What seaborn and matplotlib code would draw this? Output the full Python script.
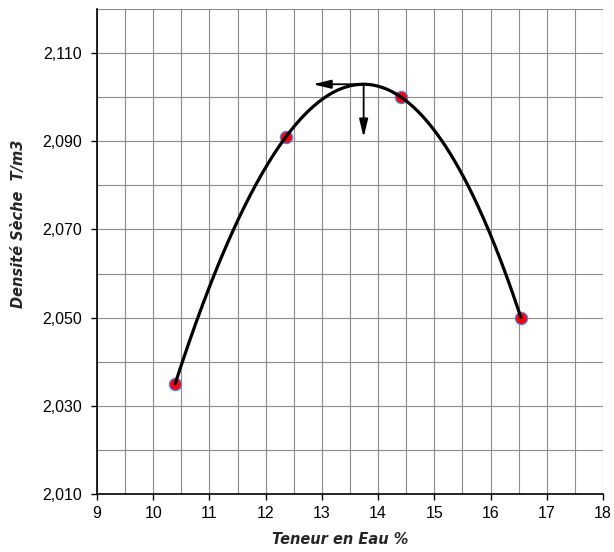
import numpy as np
import pandas as pd
import matplotlib
matplotlib.use("Agg")
import matplotlib.pyplot as plt
from matplotlib.ticker import MultipleLocator, FuncFormatter
import seaborn as sns

# Proctor test measurements
teneur_eau = [10.39, 12.36, 14.41, 16.54]
densite_seche = [2.035, 2.091, 2.100, 2.050]

x_ticks = list(range(9, 19))
y_ticks = [2.010, 2.030, 2.050, 2.070, 2.090, 2.110]

sns.set_theme(style="white")
plt.rcParams["font.family"] = ["Liberation Sans", "DejaVu Sans"]

fig = plt.figure(figsize=(6.14, 5.52), dpi=100)
ax = fig.add_axes([97 / 614, 58 / 552, 506 / 614, 485 / 552])

# Cubic trend curve through the measured points
coef = np.polyfit(teneur_eau, densite_seche, 3)
xs = np.linspace(min(teneur_eau), max(teneur_eau), 300)
curve = pd.DataFrame({"x": xs, "y": np.polyval(coef, xs)})
pts = pd.DataFrame({"x": teneur_eau, "y": densite_seche})

sns.scatterplot(data=pts, x="x", y="y", ax=ax, s=75, color="#ff0000",
                edgecolor="#5b7bd5", linewidth=1.0, zorder=3)
sns.lineplot(data=curve, x="x", y="y", ax=ax, color="black", lw=2.3,
             zorder=4, sort=False)

# Optimum: maximum of the trend curve
i_max = np.argmax(curve["y"].values)
x_opt, y_opt = xs[i_max], curve["y"].values[i_max]
arrow = dict(arrowstyle="-|>,head_length=0.9,head_width=0.22", color="black",
             lw=1.3, shrinkA=0, shrinkB=0)
ax.annotate("", xy=(x_opt - 0.9, y_opt), xytext=(x_opt, y_opt),
            arrowprops=arrow, zorder=5)
ax.annotate("", xy=(x_opt, y_opt - 0.012), xytext=(x_opt, y_opt),
            arrowprops=arrow, zorder=5)

ax.set_xlim(9, 18)
ax.set_ylim(2.010, 2.120)
ax.set_xticks(x_ticks)
ax.set_yticks(y_ticks)
ax.xaxis.set_minor_locator(MultipleLocator(0.5))
ax.yaxis.set_minor_locator(MultipleLocator(0.010))
ax.yaxis.set_major_formatter(FuncFormatter(lambda v, p: f"{v:.3f}".replace(".", ",")))
ax.xaxis.set_major_formatter(FuncFormatter(lambda v, p: f"{v:.0f}"))

ax.grid(which="both", color="#8c8c8c", lw=0.8)
ax.set_axisbelow(True)
for side in ["top", "right"]:
    ax.spines[side].set_visible(False)
for side in ["left", "bottom"]:
    ax.spines[side].set_color("black")
    ax.spines[side].set_linewidth(1.2)

ax.tick_params(which="major", direction="out", length=4, width=1,
               color="black", labelsize=11.5, labelcolor="black",
               bottom=True, left=True)
ax.tick_params(axis="y", pad=7)
ax.tick_params(axis="x", pad=5)
ax.tick_params(which="minor", length=0)

lab = dict(fontsize=10.5, fontweight="bold", fontstyle="italic",
           family=["DejaVu Sans"])
ax.set_xlabel("Teneur en Eau %", **lab)
ax.set_ylabel("Densité Sèche  T/m3", **lab)
ax.xaxis.set_label_coords(0.48, -0.079)
ax.yaxis.set_label_coords(-0.141, 0.557)

fig.savefig("out.png", dpi=100)
